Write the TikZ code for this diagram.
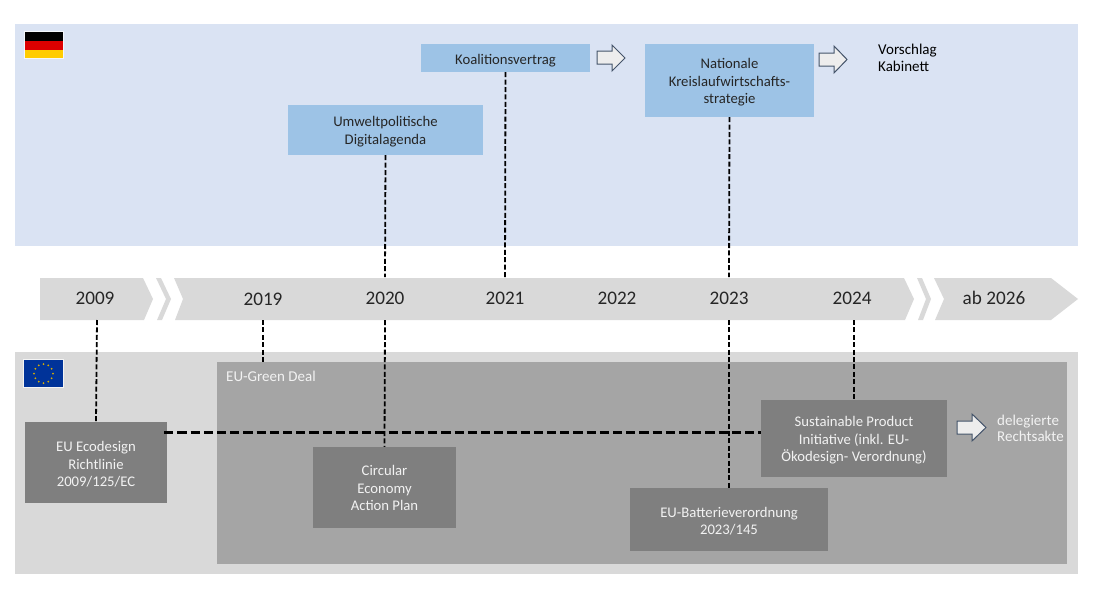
\documentclass[tikz,border=0pt]{standalone}
\usepackage{fontspec}
\setmainfont{Carlito}
\definecolor{depanel}{HTML}{DAE3F3}
\definecolor{eupanel}{HTML}{D9D9D9}
\definecolor{dealgrey}{HTML}{A5A5A5}
\definecolor{boxgrey}{HTML}{7F7F7F}
\definecolor{boxblue}{HTML}{9DC3E6}
\definecolor{bartext}{HTML}{262626}
\definecolor{lighttext}{HTML}{F2F2F2}
\definecolor{arrowedge}{HTML}{44546A}
\definecolor{arrowfill}{HTML}{EDEDED}
\definecolor{flagred}{HTML}{DD0000}
\definecolor{flaggold}{HTML}{FFCC00}
\definecolor{flagblue}{HTML}{003399}
\newcommand{\lowered}[2]{\raisebox{-#1pt}[10pt][3pt]{#2}}
\tikzset{
  bluebox/.style={fill=boxblue,draw=none,inner sep=0pt,align=center,text=bartext,font=\fontsize{14.7}{17.3}\selectfont},
  greybox/.style={fill=boxgrey,draw=none,inner sep=0pt,align=center,text=lighttext,font=\fontsize{14.7}{17.3}\selectfont},
  yearlabel/.style={inner sep=0pt,text=bartext,font=\fontsize{19.2}{22}\selectfont},
  barpiece/.style={fill=eupanel,draw=none},
  vdash/.style={draw=black,line width=1.8pt,dash pattern=on 5pt off 2.4pt},
  hdash/.style={draw=black,line width=3pt,dash pattern=on 9.2pt off 4pt},
  blockarrow/.style={draw=arrowedge,fill=arrowfill,line width=1pt,line join=miter},
  sidelabel/.style={inner sep=0pt,anchor=west,align=left,font=\fontsize{15}{16.5}\selectfont}
}
\begin{document}
\begin{tikzpicture}[x=1pt,y=-1pt]
\useasboundingbox (0,0) rectangle (1100,605);
% panels
\fill[depanel] (15,24) rectangle (1078,246);
\fill[eupanel] (15,352) rectangle (1078,574);
\fill[dealgrey] (217,362) rectangle (1067,564);
% flags
\fill[white!70!depanel] (24.4,31.4) rectangle (63.6,58.6);
\fill[black] (25,32) rectangle (63,41);
\fill[flagred] (25,41) rectangle (63,49.5);
\fill[flaggold] (25,49.5) rectangle (63,58);
\fill[white!70!eupanel] (23.4,359.4) rectangle (63.6,387.6);
\fill[flagblue] (24,360) rectangle (63,387);
\foreach \a in {0,30,...,330}
  \fill[flaggold!85!black] ({43.5+9.5*cos(\a)},{373.5+9.5*sin(\a)}) circle (1);
% timeline
\fill[barpiece] (40,278) -- (143,278) -- (153,299) -- (144,320) -- (40,320) -- cycle;
\fill[barpiece] (156,278) -- (161,278) -- (171,299) -- (162,320) -- (157,320) -- (166,299) -- cycle;
\fill[barpiece] (174,278) -- (904,278) -- (914,299) -- (905,320) -- (175,320) -- (183,299) -- cycle;
\fill[barpiece] (917,278) -- (922,278) -- (931,299) -- (923,320) -- (918,320) -- (926,299) -- cycle;
\fill[barpiece] (934,278) -- (1051,278) -- (1078,299) -- (1051,320) -- (935,320) -- (944,299) -- cycle;
\node[yearlabel] (y2009) at (95,298) {2009};
\node[yearlabel] (y2019) at (263,299) {2019};
\node[yearlabel] (y2020) at (385,298) {2020};
\node[yearlabel] (y2021) at (505,298) {2021};
\node[yearlabel] (y2022) at (617,298) {2022};
\node[yearlabel] (y2023) at (729,298) {2023};
\node[yearlabel] (y2024) at (852,298) {2024};
\node[yearlabel] (y2026) at (994,298) {ab 2026};
% bar edge anchors
\coordinate (t2020) at (385,277);
\coordinate (t2021) at (505,277);
\coordinate (t2023) at (729,277);
\coordinate (b2009) at (97,320);
\coordinate (b2019) at (263,320);
\coordinate (b2020) at (385,320);
\coordinate (b2023) at (729,320);
\coordinate (b2024) at (854,320);
\coordinate (dealtop) at (263,362);
% boxes
\node[bluebox,minimum width=169pt,minimum height=28pt] (koal) at (505.5,58) {\lowered{3}{Koalitionsvertrag}};
\node[bluebox,minimum width=195pt,minimum height=50pt] (umwelt) at (385.5,130) {\lowered{2}{Umweltpolitische}\\\lowered{2}{Digitalagenda}};
\node[bluebox,minimum width=169pt,minimum height=73pt] (nat) at (729.5,80.5) {\lowered{2}{Nationale}\\\lowered{2}{Kreislaufwirtschafts-}\\\lowered{2}{strategie}};
\node[greybox,minimum width=142pt,minimum height=81pt] (eco) at (96,462.5) {\lowered{3}{EU Ecodesign}\\\lowered{3}{Richtlinie}\\\lowered{3}{2009/125/EC}};
\node[greybox,minimum width=143pt,minimum height=81pt] (cap) at (384.5,487.5) {\lowered{2}{Circular}\\\lowered{2}{Economy}\\\lowered{2}{Action Plan}};
\node[greybox,minimum width=198pt,minimum height=63pt] (bat) at (729,519.5) {\lowered{3}{EU-Batterieverordnung}\\\lowered{3}{2023/145}};
\node[greybox,minimum width=186pt,minimum height=77pt] (spi) at (854,438.5) {\lowered{2}{Sustainable Product}\\\lowered{2}{Initiative (inkl. EU-}\\\lowered{2}{Ökodesign- Verordnung)}};
% labels
\node[sidelabel,text=lighttext] (deal) at (226,376) {EU-Green Deal};
\node[sidelabel,text=black] (vor) at (878,58) {Vorschlag\\Kabinett};
\node[sidelabel,text=lighttext] (del) at (997,428.5) {delegierte\\Rechtsakte};
% connectors
\draw[vdash] (umwelt.south) -- (t2020);
\draw[vdash] (koal.south) -- (t2021);
\draw[vdash] (nat.south) -- (t2023);
\draw[vdash] (b2009) -- (eco.north);
\draw[vdash] (b2019) -- (dealtop);
\draw[vdash] (b2020) -- (cap.north);
\draw[vdash] (b2023) -- (bat.north);
\draw[vdash] (b2024) -- (spi.north);
\draw[hdash] ([xshift=-3pt]eco.east |- 0,432) -- (spi.west |- 0,432);
% block arrows
\draw[blockarrow] (597,51) -- (612,51) -- (612,45) -- (625,58) -- (612,71) -- (612,64) -- (597,64) -- cycle;
\draw[blockarrow] (819,53) -- (834,53) -- (834,46) -- (847,59.5) -- (834,73) -- (834,66) -- (819,66) -- cycle;
\draw[blockarrow] (957,421) -- (972,421) -- (972,414) -- (986,427.5) -- (972,441) -- (972,434) -- (957,434) -- cycle;
\end{tikzpicture}
\end{document}
